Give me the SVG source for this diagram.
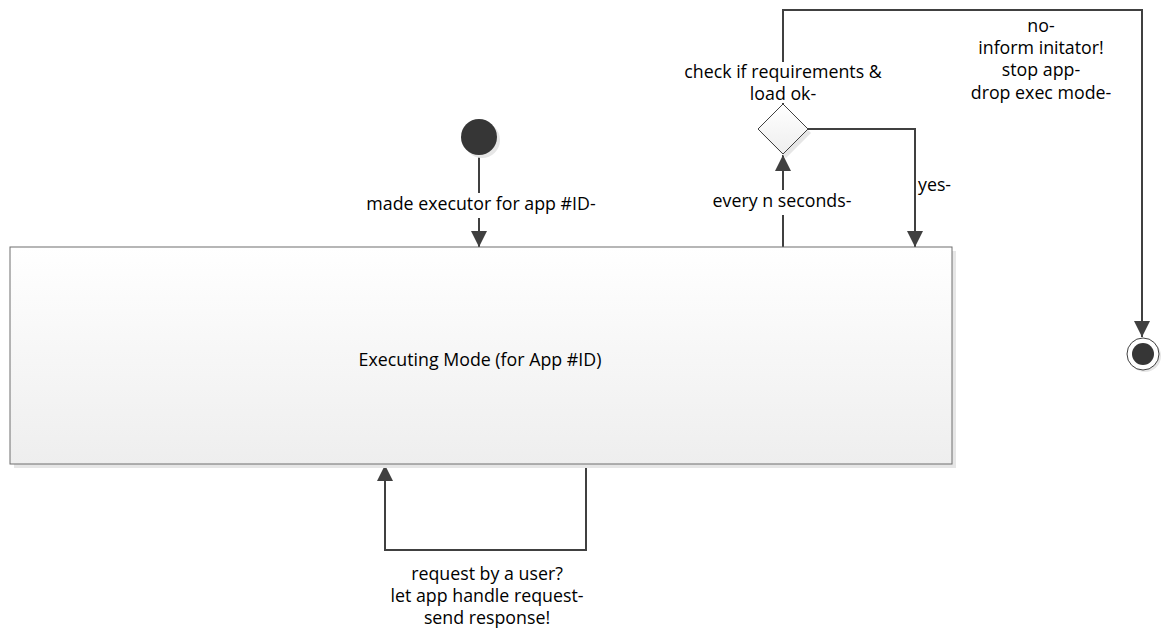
<svg xmlns="http://www.w3.org/2000/svg" width="1165" height="630" viewBox="0 0 1165 630">
<defs>
<linearGradient id="g" x1="0" y1="0" x2="0" y2="1">
<stop offset="0" stop-color="#ffffff"/>
<stop offset="1" stop-color="#eeeeee"/>
</linearGradient>
<marker id="arr" viewBox="0 0 10 10" refX="10" refY="5" markerWidth="8" markerHeight="8" markerUnits="strokeWidth" orient="auto">
<path d="M0,0 L10,5 L0,10 z" fill="#404040"/>
</marker>
<style>
text{font-family:"Open Sans","Liberation Sans",Arial,sans-serif;font-size:17.8px;fill:#000;text-anchor:middle}
.c{fill:none;stroke:#404040;stroke-width:2}
.sh{fill:#e6e6e6}
.bg{fill:#fff}
</style>
</defs>
<rect width="1165" height="630" fill="#fff"/>
<g id="connectors">
<path class="c" d="M479,155 V247" marker-end="url(#arr)"/>
<path class="c" d="M783,247 V155" marker-end="url(#arr)"/>
<path class="c" d="M808,129 H915 V247" marker-end="url(#arr)"/>
<path class="c" d="M783,104 V10 H1142 V337" marker-end="url(#arr)"/>
<path class="c" d="M586,464 V550 H385 V465" marker-end="url(#arr)"/>
</g>
<g id="start">
<circle class="sh" cx="482" cy="140" r="18"/>
<circle cx="479" cy="137" r="18" fill="#363636"/>
</g>
<g id="executing">
<rect class="sh" x="14" y="251" width="942" height="217"/>
<rect x="10" y="247" width="942" height="217" fill="url(#g)" stroke="#6e6e6e" stroke-width="1"/>
<text x="480" y="366">Executing Mode (for App #ID)</text>
</g>
<g id="labels">
<rect class="bg" x="365" y="193" width="232" height="25"/>
<text x="481" y="210">made executor for app #ID-</text>
<rect class="bg" x="712" y="190" width="142" height="25"/>
<text x="782" y="207">every n seconds-</text>
<text x="918" y="191" style="text-anchor:start">yes-</text>
<rect class="bg" x="690" y="62" width="186" height="41"/>
<text x="783" y="78">check if requirements &amp;</text>
<text x="783" y="100">load ok-</text>
<text x="1041" y="32">no-</text>
<text x="1041" y="54">inform initator!</text>
<text x="1041" y="76">stop app-</text>
<text x="1041" y="99">drop exec mode-</text>
<text x="487" y="580">request by a user?</text>
<text x="487" y="602">let app handle request-</text>
<text x="487" y="624">send response!</text>
</g>
<g id="decision">
<path class="sh" d="M786,108 L811,133 L786,158 L761,133 z"/>
<path d="M783,104 L808,129 L783,154 L758,129 z" fill="url(#g)" stroke="#404040" stroke-width="1"/>
</g>
<g id="end">
<circle class="sh" cx="1145" cy="356" r="16"/>
<circle cx="1143" cy="354" r="16" fill="#fff" stroke="#404040" stroke-width="1"/>
<circle cx="1143" cy="354" r="11" fill="#363636"/>
</g>
</svg>
